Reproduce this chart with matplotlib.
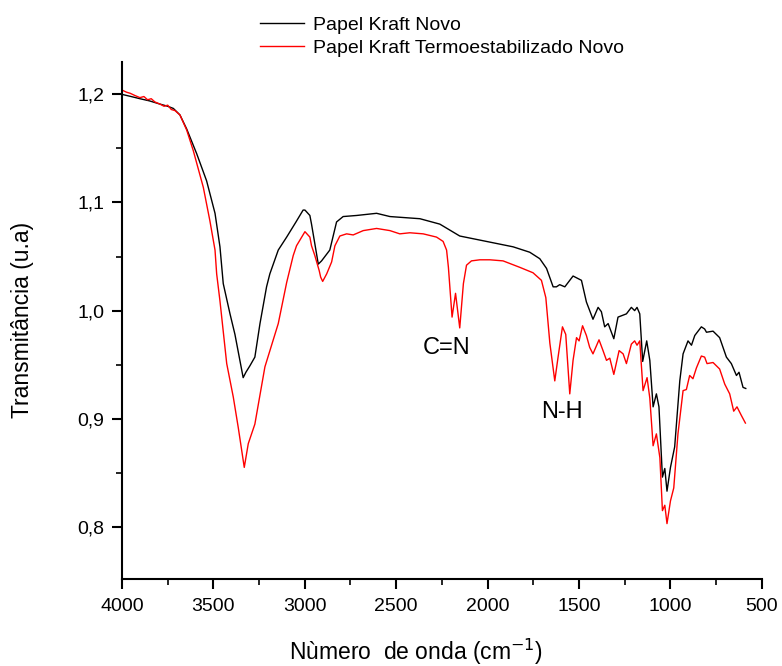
import numpy as np
import matplotlib
matplotlib.use("Agg")
from matplotlib import pyplot as plt
from matplotlib.ticker import MultipleLocator, FuncFormatter

plt.rcParams['font.family'] = ['Liberation Sans', 'DejaVu Sans']

# Papel Kraft Novo
wn_novo = [4000, 3950, 3902, 3850, 3792, 3750, 3719, 3683, 3646, 3591, 3537, 3491, 3464, 3446, 3409,
           3382, 3355, 3337, 3322, 3300, 3273, 3245, 3209, 3191, 3145, 3099, 3048,
           3009, 2999, 2972, 2963, 2926, 2908, 2863, 2826, 2790, 2716, 2607, 2534,
           2370, 2261, 2152, 2006, 1860, 1769, 1714, 1677, 1641, 1623, 1605, 1577,
           1532, 1486, 1459, 1423, 1395, 1377, 1359, 1340, 1309, 1286, 1240, 1213,
           1195, 1182, 1167, 1151, 1129, 1112, 1094, 1076, 1062, 1043, 1030, 1018,
           999, 976, 948, 930, 903, 884, 866, 830, 812, 802, 766, 730, 693, 666,
           638, 624, 602, 587]
t_novo = [1.200, 1.198, 1.196, 1.194, 1.191, 1.189, 1.187, 1.181, 1.168, 1.145, 1.120, 1.090, 1.059, 1.025, 0.997,
          0.978, 0.954, 0.938, 0.943, 0.949, 0.957, 0.988, 1.022, 1.034, 1.056, 1.068, 1.082,
          1.093, 1.093, 1.088, 1.080, 1.043, 1.046, 1.056, 1.082, 1.087, 1.088, 1.090, 1.087,
          1.085, 1.080, 1.069, 1.064, 1.059, 1.054, 1.048, 1.039, 1.022, 1.022, 1.024, 1.022,
          1.032, 1.028, 1.008, 0.992, 1.003, 0.999, 0.985, 0.988, 0.974, 0.994, 0.997, 1.003,
          1.000, 1.003, 0.997, 0.953, 0.972, 0.954, 0.911, 0.923, 0.911, 0.846, 0.854, 0.833,
          0.855, 0.874, 0.935, 0.960, 0.972, 0.968, 0.977, 0.985, 0.983, 0.980, 0.981, 0.975,
          0.957, 0.951, 0.940, 0.943, 0.929, 0.928]

# Papel Kraft Termoestabilizado Novo
wn_termo = [4000, 3975, 3955, 3930, 3902, 3880, 3860, 3840, 3820, 3792, 3770, 3750, 3730, 3710, 3683, 3646, 3610, 3555, 3519, 3491, 3482, 3464,
            3427, 3391, 3364, 3331, 3309, 3273, 3218, 3145, 3099, 3063, 3045, 2999,
            2972, 2963, 2945, 2921, 2913, 2902, 2880, 2853, 2835, 2808, 2771, 2735,
            2680, 2607, 2534, 2480, 2425, 2352, 2279, 2243, 2224, 2214, 2194, 2175,
            2152, 2132, 2115, 2088, 2042, 1987, 1915, 1823, 1751, 1705, 1681, 1659,
            1632, 1614, 1590, 1572, 1550, 1532, 1513, 1499, 1480, 1459, 1441, 1423,
            1390, 1368, 1349, 1331, 1309, 1280, 1258, 1240, 1213, 1195, 1182, 1167,
            1149, 1127, 1112, 1094, 1076, 1057, 1043, 1030, 1018, 999, 981, 958,
            930, 912, 894, 876, 857, 830, 812, 799, 766, 730, 702, 675, 653, 635,
            611, 589]
t_termo = [1.204, 1.202, 1.201, 1.199, 1.197, 1.198, 1.195, 1.196, 1.193, 1.191, 1.189, 1.190, 1.186, 1.185, 1.181, 1.167, 1.148, 1.114, 1.083, 1.056, 1.034, 1.009,
           0.951, 0.920, 0.892, 0.855, 0.877, 0.895, 0.948, 0.988, 1.026, 1.051, 1.060, 1.073,
           1.068, 1.060, 1.051, 1.037, 1.031, 1.027, 1.034, 1.045, 1.060, 1.069, 1.071, 1.070,
           1.074, 1.076, 1.074, 1.071, 1.072, 1.071, 1.068, 1.064, 1.056, 1.040, 0.994, 1.016,
           0.984, 1.025, 1.042, 1.046, 1.047, 1.047, 1.046, 1.040, 1.035, 1.028, 1.012, 0.970,
           0.935, 0.957, 0.985, 0.978, 0.923, 0.954, 0.975, 0.972, 0.986, 0.977, 0.966, 0.960,
           0.973, 0.963, 0.954, 0.956, 0.941, 0.963, 0.960, 0.951, 0.969, 0.972, 0.968, 0.972,
           0.926, 0.938, 0.919, 0.875, 0.886, 0.864, 0.815, 0.820, 0.803, 0.824, 0.836, 0.886,
           0.926, 0.927, 0.940, 0.937, 0.947, 0.958, 0.957, 0.951, 0.952, 0.946, 0.932, 0.923,
           0.907, 0.911, 0.903, 0.896]

labels = ['Papel Kraft Novo', 'Papel Kraft Termoestabilizado Novo']

fig = plt.figure(figsize=(7.82, 6.66), dpi=100)
ax = fig.add_axes([0.156, 0.131, 0.818, 0.776])

l1, = ax.plot(wn_novo, t_novo, color='black', lw=1.0)
l2, = ax.plot(wn_termo, t_termo, color='red', lw=1.0)

ax.set_xlim(4000, 500)
ax.set_ylim(0.752, 1.23)

for s in ['top', 'right']:
    ax.spines[s].set_visible(False)
for s in ['left', 'bottom']:
    ax.spines[s].set_linewidth(1.5)

ax.xaxis.set_major_locator(MultipleLocator(500))
ax.xaxis.set_minor_locator(MultipleLocator(250))
ax.yaxis.set_major_locator(MultipleLocator(0.1))
ax.yaxis.set_minor_locator(MultipleLocator(0.05))
ax.yaxis.set_major_formatter(FuncFormatter(lambda v, p: ('%.1f' % v).replace('.', ',')))
ax.tick_params(which='major', direction='out', length=7.2, width=1.5, labelsize=14)
ax.tick_params(axis='x', which='major', pad=6.5)
ax.tick_params(axis='y', which='major', pad=5.5)
ax.tick_params(which='minor', direction='out', length=4, width=1.2)

ax.set_xlabel('Nùmero  de onda (cm$^{-1}$)', fontsize=16.5, labelpad=15.5, x=0.46)
ax.set_ylabel('Transmitância (u.a)', fontsize=16.5, labelpad=31)

ax.text(2223, 0.965, 'C=N', fontsize=17, ha='center', va='center')
ax.text(1594, 0.906, 'N-H', fontsize=17, ha='center', va='center')

fig.legend([l1, l2], labels, loc='upper left', bbox_to_anchor=(0.322, 0.987),
           frameon=False, fontsize=14, handlelength=2.3, handletextpad=0.45,
           labelspacing=0.28, borderaxespad=0)

fig.savefig('out.png', dpi=100)
